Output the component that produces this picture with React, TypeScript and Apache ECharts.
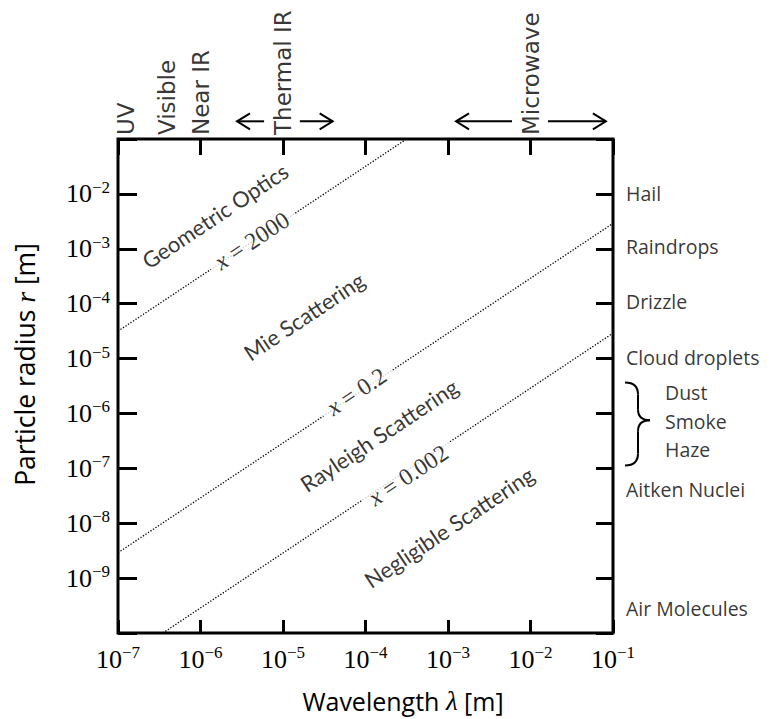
import React, { useEffect, useRef } from 'react';
import * as echarts from 'echarts';

// Axis ranges (log10 scale)
const X_MIN = 1e-7;
const X_MAX = 1e-1;
const Y_MIN = 1e-10;
const Y_MAX = 1e-1;

// Size-parameter lines x = 2*pi*r/lambda (end points)
const line2000 = [[1e-7, 3.15e-5], [3.15e-4, 1e-1]];
const line02 = [[1e-7, 2.9e-9], [1e-1, 2.9e-3]];
const line0002 = [[3.5e-7, 1e-10], [1e-1, 2.9e-5]];

// Regime labels inside the plot
const regionLabels = ['Geometric Optics', 'Mie Scattering', 'Rayleigh Scattering', 'Negligible Scattering'];
const regionLambda = [1.5e-6, 1.8e-5, 1.46e-4, 1.03e-3];
const regionRadius = [4.0e-3, 5.9e-5, 4.0e-7, 8.5e-9];

// Size-parameter labels on the lines
const sizeParamLabels = ['2000', '0.2', '0.002'];
const sizeParamLambda = [4.2e-6, 7.8e-5, 3.3e-4];
const sizeParamRadius = [1.4e-3, 2.5e-6, 7.5e-8];

// Particle types on the right
const particleNames = ['Hail', 'Raindrops', 'Drizzle', 'Cloud droplets', 'Aitken Nuclei', 'Air Molecules'];
const particleRadius = [1e-2, 1.1e-3, 1.1e-4, 1.06e-5, 4.2e-8, 2.75e-10];
const aerosolNames = ['Dust', 'Smoke', 'Haze'];
const aerosolRadius = [2.4e-6, 7e-7, 2.25e-7];
const braceRadius = [3.66e-6, 7.5e-7, 1.13e-7]; // top, tip, bottom

// Spectral bands on top
const bandNames = ['UV', 'Visible', 'Near IR', 'Thermal IR', 'Microwave'];
const bandLambda = [1.25e-7, 3.9e-7, 1e-6, 1e-5, 1e-2];

// Arrows on top (tail -> tip)
const arrowTails = [5.9e-6, 1.6e-5, 5.97e-3, 1.63e-2];
const arrowTips = [2.77e-6, 4.0e-5, 1.25e-3, 8.2e-2];
const ARROW_R = 0.21;

const SERIF = 'Liberation Serif';
const SANS = 'Open Sans';

const powLabel = (v: number) => {
  const e = Math.round(Math.log10(v));
  return `{b|10}{s|${e < 0 ? '\u2212' : ''}${Math.abs(e)}}`;
};
const yPowLabel = (v: number) => {
  const e = Math.round(Math.log10(v));
  if (e <= Math.round(Math.log10(Y_MIN)) || e >= Math.round(Math.log10(Y_MAX))) return '';
  return powLabel(v);
};
const powRich = {
  b: { fontFamily: SERIF, fontSize: 26, lineHeight: 30, color: '#000' },
  s: { fontFamily: SERIF, fontSize: 17, lineHeight: 17, verticalAlign: 'top', color: '#000' },
};

export default function App() {
  const ref = useRef<HTMLDivElement>(null);
  useEffect(() => {
    const chart = echarts.init(ref.current!, null, { renderer: 'svg' });
    const tickStyle = { color: '#000', width: 3 };
    const lineStyle = { color: '#000', width: 1.3, type: [1.3, 1.7] };
    const option: any = {
      animation: false,
      backgroundColor: '#fff',
      grid: { left: 118, top: 139, width: 495, height: 495, show: true, borderColor: '#000', borderWidth: 3, backgroundColor: 'transparent' },
      xAxis: [
        {
          type: 'log', logBase: 10, min: X_MIN, max: X_MAX, position: 'bottom',
          axisLine: { show: false },
          axisTick: { show: true, inside: true, length: 13, lineStyle: tickStyle },
          axisLabel: { formatter: powLabel, rich: powRich, margin: 11 },
          splitLine: { show: false }, minorTick: { show: false },
          name: '{t|Wavelength }{m|\u03bb}{t| [m]}',
          nameLocation: 'middle', nameGap: 54,
          nameTextStyle: {
            padding: [0, 0, 0, 75],
            rich: {
              t: { fontFamily: SANS, fontSize: 25, color: '#000' },
              m: { fontFamily: SERIF, fontStyle: 'italic', fontSize: 27, color: '#000' },
            },
          },
        },
        {
          type: 'log', logBase: 10, min: X_MIN, max: X_MAX, position: 'top',
          axisLine: { show: false },
          axisTick: { show: true, inside: true, length: 16, lineStyle: tickStyle },
          axisLabel: { show: false }, splitLine: { show: false },
        },
      ],
      yAxis: [
        {
          type: 'log', logBase: 10, min: Y_MIN, max: Y_MAX, position: 'left',
          axisLine: { show: false },
          axisTick: { show: true, inside: true, length: 19, lineStyle: tickStyle },
          axisLabel: { formatter: yPowLabel, rich: powRich, margin: 8 },
          splitLine: { show: false }, minorTick: { show: false },
          name: '{t|Particle radius }{m|r}{t| [m]}',
          nameLocation: 'middle', nameGap: 79,
          nameTextStyle: {
            padding: [0, 0, 0, 43],
            rich: {
              t: { fontFamily: SANS, fontSize: 26.5, color: '#000' },
              m: { fontFamily: SERIF, fontStyle: 'italic', fontSize: 28, color: '#000' },
            },
          },
        },
        {
          type: 'log', logBase: 10, min: Y_MIN, max: Y_MAX, position: 'right',
          axisLine: { show: false },
          axisTick: { show: true, inside: true, length: 17, lineStyle: tickStyle },
          axisLabel: { show: false }, splitLine: { show: false },
        },
      ],
      series: [
        { type: 'line', data: line2000, symbol: 'none', lineStyle, silent: true, z: 2 },
        { type: 'line', data: line02, symbol: 'none', lineStyle, silent: true, z: 2 },
        { type: 'line', data: line0002, symbol: 'none', lineStyle, silent: true, z: 2 },
        {
          type: 'scatter', symbolSize: 0, clip: false, silent: true, z: 10,
          data: regionLabels.map((n, i) => ({ name: n, value: [regionLambda[i], regionRadius[i]] })),
          label: { show: true, position: 'inside', formatter: '{b}', rotate: 33.7, fontFamily: 'Lato', fontSize: 22, color: '#000' },
        },
        {
          type: 'scatter', symbolSize: 0, clip: false, silent: true, z: 10,
          data: sizeParamLabels.map((n, i) => ({ name: n, value: [sizeParamLambda[i], sizeParamRadius[i]] })),
          label: {
            show: true, position: 'inside', rotate: 33.7,
            formatter: (p: any) => `{i|x}{n| = ${p.name}}`,
            backgroundColor: '#fff', padding: [2, 8],
            rich: {
              i: { fontFamily: SERIF, fontStyle: 'italic', fontSize: 24, color: '#000' },
              n: { fontFamily: SERIF, fontSize: 24, color: '#000' },
            },
          },
        },
        {
          type: 'scatter', symbolSize: 0, clip: false, silent: true, z: 10,
          data: particleNames.map((n, i) => ({ name: n, value: [X_MAX, particleRadius[i]] })),
          label: { show: true, position: 'right', distance: 13, formatter: '{b}', align: 'left', verticalAlign: 'middle', fontFamily: SANS, fontSize: 19.5, lineHeight: 21, color: '#000' },
        },
        {
          type: 'scatter', symbolSize: 0, clip: false, silent: true, z: 10,
          data: aerosolNames.map((n, i) => ({ name: n, value: [X_MAX, aerosolRadius[i]] })),
          label: { show: true, position: 'right', distance: 52, formatter: '{b}', align: 'left', verticalAlign: 'middle', fontFamily: SANS, fontSize: 19.5, lineHeight: 21, color: '#000' },
        },
        {
          type: 'scatter', symbolSize: 0, clip: false, silent: true, z: 10,
          data: bandNames.map((n, i) => ({ name: n, value: [bandLambda[i], Y_MAX] })),
          label: { show: true, position: 'top', distance: 4, rotate: 90, formatter: '{b}', align: 'left', verticalAlign: 'middle', fontFamily: 'DejaVu Sans', fontSize: 23, color: '#000' },
        },
      ],
    };
    chart.setOption(option);

    const P = (l: number, r: number) => chart.convertToPixel({ gridIndex: 0 }, [l, r]) as number[];
    const stroke = { stroke: '#000', lineWidth: 2, fill: null };
    const graphics: any[] = [];
    arrowTails.forEach((tail, i) => {
      const a = P(tail, ARROW_R);
      const b = P(arrowTips[i], ARROW_R);
      const dir = b[0] > a[0] ? 1 : -1;
      graphics.push({ type: 'line', shape: { x1: a[0], y1: a[1], x2: b[0], y2: b[1] }, style: stroke, silent: true });
      graphics.push({
        type: 'polyline', silent: true, style: stroke,
        shape: { points: [[b[0] - dir * 13, b[1] - 8], [b[0], b[1]], [b[0] - dir * 13, b[1] + 8]] },
      });
    });
    const right = P(X_MAX, 1)[0];
    const yTop = P(X_MAX, braceRadius[0])[1];
    const yTip = P(X_MAX, braceRadius[1])[1];
    const yBot = P(X_MAX, braceRadius[2])[1];
    const s = right + 12, sp = right + 25, tp = right + 37;
    graphics.push({ type: 'bezierCurve', silent: true, style: stroke, shape: { x1: s, y1: yTop, cpx1: sp, cpy1: yTop, x2: sp, y2: yTop + 12 } });
    graphics.push({ type: 'line', silent: true, style: stroke, shape: { x1: sp, y1: yTop + 12, x2: sp, y2: yTip - 11 } });
    graphics.push({ type: 'bezierCurve', silent: true, style: stroke, shape: { x1: sp, y1: yTip - 11, cpx1: sp, cpy1: yTip, x2: tp, y2: yTip } });
    graphics.push({ type: 'bezierCurve', silent: true, style: stroke, shape: { x1: tp, y1: yTip, cpx1: sp, cpy1: yTip, x2: sp, y2: yTip + 11 } });
    graphics.push({ type: 'line', silent: true, style: stroke, shape: { x1: sp, y1: yTip + 11, x2: sp, y2: yBot - 12 } });
    graphics.push({ type: 'bezierCurve', silent: true, style: stroke, shape: { x1: sp, y1: yBot - 12, cpx1: sp, cpy1: yBot, x2: s, y2: yBot } });
    chart.setOption({ graphic: graphics });

    return () => chart.dispose();
  }, []);
  return <div ref={ref} style={{ position: 'fixed', left: 0, top: 0, width: 777, height: 719, background: '#fff' }} />;
}
